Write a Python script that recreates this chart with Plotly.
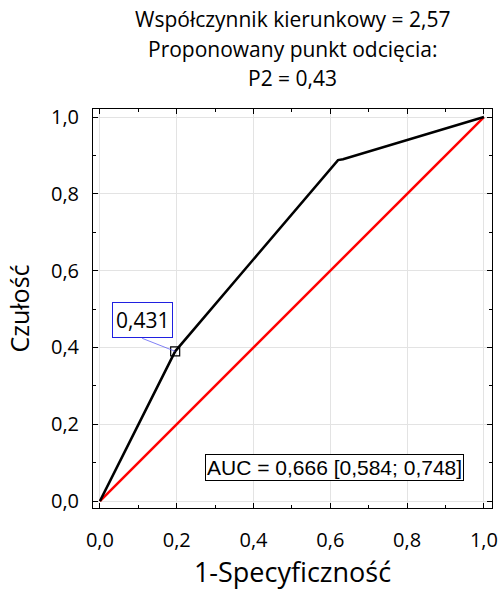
import plotly.graph_objects as go

# ROC curve data
fpr = [0.0, 0.196, 0.62, 0.633, 1.0]
tpr = [0.0, 0.39, 0.888, 0.89, 1.0]
diag_x = [0.0, 1.0]
diag_y = [0.0, 1.0]
cut_x = [0.196]
cut_y = [0.39]
cut_label = "0,431"
title_lines = ["Współczynnik kierunkowy = 2,57", "Proponowany punkt odcięcia:", "P2 = 0,43"]
auc_text = "AUC = 0,666 [0,584; 0,748]"
tick_vals = [0.0, 0.2, 0.4, 0.6, 0.8, 1.0]
tick_text = ["0,0", "0,2", "0,4", "0,6", "0,8", "1,0"]

FONT = "Open Sans"

fig = go.Figure()
fig.add_trace(go.Scatter(x=diag_x, y=diag_y, mode="lines",
                         line=dict(color="#ff0000", width=2.5), showlegend=False))
fig.add_trace(go.Scatter(x=fpr, y=tpr, mode="lines",
                         line=dict(color="black", width=2.5), showlegend=False))
fig.add_trace(go.Scatter(x=cut_x, y=cut_y, mode="markers",
                         marker=dict(symbol="square-open", size=9, color="black",
                                     line=dict(width=1.2)), showlegend=False))

axis_common = dict(
    range=[-0.018, 1.021], tickvals=tick_vals, ticktext=tick_text,
    showgrid=True, gridcolor="#e3e3e3", gridwidth=1,
    zeroline=False, showline=True, linecolor="black", linewidth=1,
    mirror="ticks", ticks="inside", ticklen=5, tickcolor="black",
    minor=dict(dtick=0.1, ticks="inside", ticklen=3, tickcolor="black", showgrid=False),
    tickfont=dict(family=FONT, size=20, color="black"),
    automargin=False,
)

fig.update_layout(
    width=500, height=590,
    margin=dict(l=93, r=8, t=109, b=82),
    paper_bgcolor="white", plot_bgcolor="white",
    xaxis=dict(**axis_common, ticklabelstandoff=14,
               title=dict(text="1-Specyficzność", standoff=16,
                          font=dict(family=FONT, size=27, color="black"))),
    yaxis=dict(**axis_common, ticklabelstandoff=9,
               title=dict(text="Czułość", standoff=14,
                          font=dict(family=FONT, size=25, color="black"))),
)

# three-line title as annotations (line centres ~19, 48.5, 78 px from top)
for i, line in enumerate(title_lines):
    fig.add_annotation(x=0.5, y=1.2256 - i * 0.074, xref="paper", yref="paper",
                       text=line, showarrow=False, xanchor="center", yanchor="middle",
                       font=dict(family=FONT, size=21, color="black"))

fig.add_annotation(x=cut_x[0], y=cut_y[0], text=cut_label, showarrow=True,
                   arrowhead=0, arrowwidth=0.7, arrowcolor="#4a4af0",
                   ax=-33, ay=-13, xanchor="center", yanchor="bottom",
                   bordercolor="#2020e0", borderwidth=1,
                   borderpad=3, bgcolor="white",
                   font=dict(family=FONT, size=21, color="black"))

fig.add_annotation(x=0.612, y=0.087, xref="x", yref="y", text=auc_text,
                   showarrow=False, bordercolor="black", borderwidth=1,
                   borderpad=1, bgcolor="white",
                   font=dict(family="Liberation Sans", size=21, color="black"))

fig.write_html("out.html")
